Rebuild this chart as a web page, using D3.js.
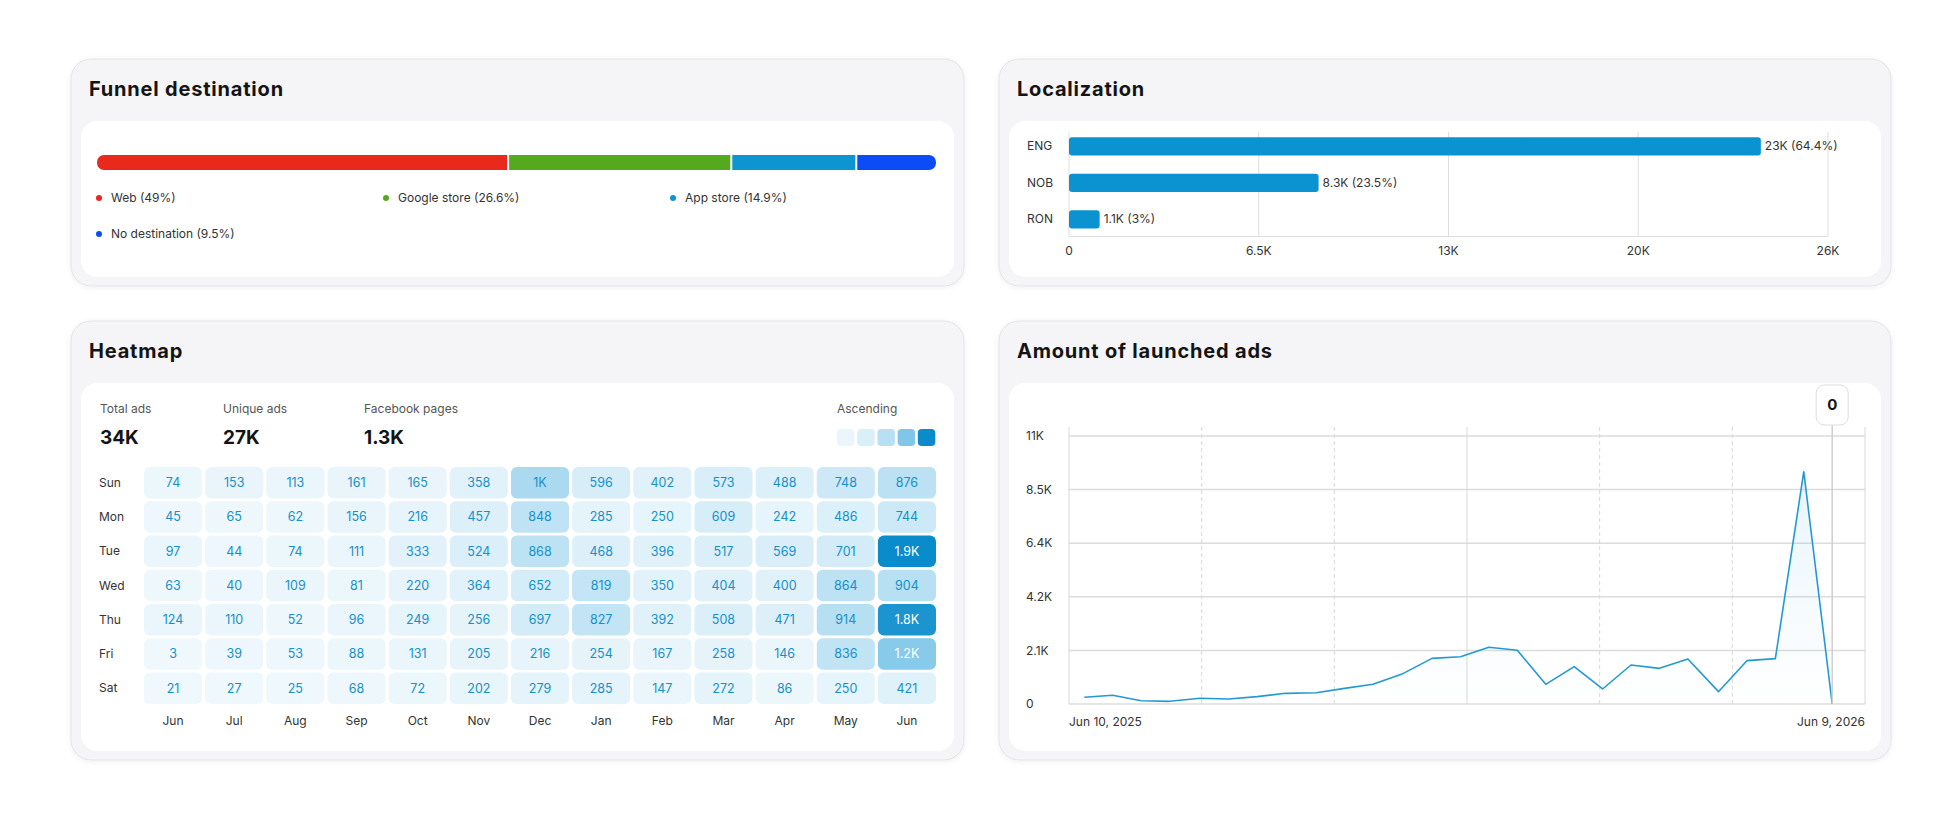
<!DOCTYPE html>
<html lang="en">
<head>
  <meta charset="utf-8">
  <style>
    html, body {
      margin: 0;
      padding: 0;
      background: #ffffff;
      width: 100%;
      height: 100%;
      overflow: hidden;
      font-family: Inter, "Noto Sans", sans-serif;
    }
    svg { display: block; }
    .title { font-size: 20px; font-weight: 700; fill: #141414; letter-spacing: 0.8px; }
    .lbl { font-size: 12px; fill: #333; }
  </style>
</head>
<body>
<svg width="1960" height="817"></svg>

<script src="https://d3js.org/d3.v7.min.js"></script>
<script>
// ---- data ----
const funnelNames = ["Web", "Google store", "App store", "No destination"];
const funnelShares = [49, 26.6, 14.9, 9.5];
const funnelColors = ["#e8291b", "#55a91f", "#0c95d1", "#0a4cf5"];

const langNames = ["ENG", "NOB", "RON"];
const langValues = [23700, 8550, 1050];
const langLabels = ["23K (64.4%)", "8.3K (23.5%)", "1.1K (3%)"];
const langTicks = [0, 6500, 13000, 19500, 26000];
const langTickLabels = ["0", "6.5K", "13K", "20K", "26K"];

const heatStats = [["Total ads", "34K"], ["Unique ads", "27K"], ["Facebook pages", "1.3K"]];
const heatDays = ["Sun", "Mon", "Tue", "Wed", "Thu", "Fri", "Sat"];
const heatMonths = ["Jun", "Jul", "Aug", "Sep", "Oct", "Nov", "Dec", "Jan", "Feb", "Mar", "Apr", "May", "Jun"];
const heatValues = [
  [74, 153, 113, 161, 165, 358, 1000, 596, 402, 573, 488, 748, 876],
  [45, 65, 62, 156, 216, 457, 848, 285, 250, 609, 242, 486, 744],
  [97, 44, 74, 111, 333, 524, 868, 468, 396, 517, 569, 701, 1900],
  [63, 40, 109, 81, 220, 364, 652, 819, 350, 404, 400, 864, 904],
  [124, 110, 52, 96, 249, 256, 697, 827, 392, 508, 471, 914, 1800],
  [3, 39, 53, 88, 131, 205, 216, 254, 167, 258, 146, 836, 1200],
  [21, 27, 25, 68, 72, 202, 279, 285, 147, 272, 86, 250, 421]
];
const heatLegendSteps = [150, 550, 900, 1250, 1900];

const adDates = [
  "2025-06-17", "2025-06-30", "2025-07-13", "2025-07-26", "2025-08-09", "2025-08-22",
  "2025-09-04", "2025-09-17", "2025-10-01", "2025-10-14", "2025-10-27", "2025-11-09",
  "2025-11-23", "2025-12-06", "2025-12-19", "2026-01-01", "2026-01-14", "2026-01-27",
  "2026-02-09", "2026-02-22", "2026-03-07", "2026-03-20", "2026-04-03", "2026-04-16",
  "2026-04-29", "2026-05-12", "2026-05-25"
];
const adCounts = [
  265, 345, 131, 106, 225, 198, 291, 423, 449, 621, 780, 1176, 1810, 1876,
  2247, 2128, 780, 1480, 595, 1546, 1414, 1784, 489, 1718, 1797, 9210, 0
];
const adTicks = [0, 2125, 4250, 6375, 8500, 10625];
const adTickLabels = ["0", "2.1K", "4.2K", "6.4K", "8.5K", "11K"];

// ---- setup ----
const svg = d3.select("svg");
const defs = svg.append("defs");

const shadow = defs.append("filter").attr("id", "shadow")
  .attr("x", "-5%").attr("y", "-5%").attr("width", "110%").attr("height", "115%");
shadow.append("feDropShadow")
  .attr("dx", 0).attr("dy", 1).attr("stdDeviation", 2.5)
  .attr("flood-color", "#000").attr("flood-opacity", 0.07);

function panel(x, y, w, h, title) {
  const g = svg.append("g");
  g.append("rect")
    .attr("x", x).attr("y", y).attr("width", w).attr("height", h)
    .attr("rx", 20)
    .attr("fill", "#f5f5f7")
    .attr("stroke", "#e4e4e8")
    .attr("filter", "url(#shadow)");
  g.append("text").attr("class", "title")
    .attr("x", x + 18).attr("y", y + 37)
    .text(title);
  g.append("rect")
    .attr("x", x + 10).attr("y", y + 62).attr("width", w - 20).attr("height", h - 71)
    .attr("rx", 16)
    .attr("fill", "#fff");
  return g;
}

// ---- Funnel destination ----
{
  const g = panel(71, 59, 893, 227, "Funnel destination");
  const x = d3.scaleLinear().domain([0, 100]).range([97, 936]);
  const starts = d3.cumsum([0, ...funnelShares]);
  const barY = 155, barH = 15;

  defs.append("clipPath").attr("id", "funnelClip")
    .append("rect")
    .attr("x", x(0)).attr("y", barY).attr("width", x(100) - x(0)).attr("height", barH)
    .attr("rx", 7);

  const bar = g.append("g").attr("clip-path", "url(#funnelClip)");
  bar.selectAll("rect")
    .data(funnelShares)
    .join("rect")
    .attr("x", (d, i) => x(starts[i]))
    .attr("y", barY)
    .attr("width", (d, i) => x(starts[i] + d) - x(starts[i]))
    .attr("height", barH)
    .attr("fill", (d, i) => funnelColors[i]);

  // white separators
  bar.selectAll("line")
    .data(starts.slice(1, funnelShares.length))
    .join("line")
    .attr("x1", d => x(d)).attr("x2", d => x(d))
    .attr("y1", barY).attr("y2", barY + barH)
    .attr("stroke", "#fff").attr("stroke-width", 2);

  // legend, 3 per row
  const leg = g.selectAll(".leg")
    .data(funnelNames)
    .join("g")
    .attr("transform", (d, i) => `translate(${99 + (i % 3) * 287},${198 + Math.floor(i / 3) * 36})`);
  leg.append("circle").attr("r", 3).attr("fill", (d, i) => funnelColors[i]);
  leg.append("text").attr("class", "lbl")
    .attr("x", 12).attr("dy", "0.35em")
    .text((d, i) => `${d} (${funnelShares[i]}%)`);
}

// ---- Localization ----
{
  const g = panel(999, 59, 892, 227, "Localization");
  const x = d3.scaleLinear().domain([0, 26000]).range([1069, 1828]);
  const y = d3.scaleBand().domain(langNames).range([128, 237.5])
    .paddingInner(0.5).paddingOuter(0.25);
  const axisY = 236.5;

  g.selectAll(".grid")
    .data(langTicks)
    .join("line")
    .attr("x1", d => x(d)).attr("x2", d => x(d))
    .attr("y1", 132).attr("y2", axisY)
    .attr("stroke", "#dedede").attr("stroke-width", 1);
  g.append("line")
    .attr("x1", x(0)).attr("x2", x(26000))
    .attr("y1", axisY).attr("y2", axisY)
    .attr("stroke", "#dedede");

  g.selectAll(".bar")
    .data(langValues)
    .join("rect")
    .attr("x", x(0))
    .attr("y", (d, i) => y(langNames[i]))
    .attr("width", d => x(d) - x(0))
    .attr("height", y.bandwidth())
    .attr("rx", 3)
    .attr("fill", "#0b93d1");

  g.selectAll(".val")
    .data(langValues)
    .join("text").attr("class", "lbl")
    .attr("x", d => x(d) + 4)
    .attr("y", (d, i) => y(langNames[i]) + y.bandwidth() / 2)
    .attr("dy", "0.35em")
    .text((d, i) => langLabels[i]);

  g.selectAll(".cat")
    .data(langNames)
    .join("text").attr("class", "lbl")
    .attr("x", 1027)
    .attr("y", d => y(d) + y.bandwidth() / 2)
    .attr("dy", "0.35em")
    .text(d => d);

  g.selectAll(".tick")
    .data(langTicks)
    .join("text").attr("class", "lbl")
    .attr("x", d => x(d))
    .attr("y", 251).attr("dy", "0.35em")
    .attr("text-anchor", "middle")
    .text((d, i) => langTickLabels[i]);
}

// ---- Heatmap ----
{
  const g = panel(71, 321, 893, 439, "Heatmap");

  const stat = g.selectAll(".stat")
    .data(heatStats)
    .join("g")
    .attr("transform", (d, i) => `translate(${[100, 223, 364][i]},0)`);
  stat.append("text")
    .attr("y", 409).attr("dy", "0.35em")
    .attr("font-size", 12).attr("fill", "#555")
    .text(d => d[0]);
  stat.append("text")
    .attr("y", 437).attr("dy", "0.35em")
    .attr("font-size", 19).attr("font-weight", 700).attr("fill", "#141414")
    .text(d => d[1]);

  const color = d3.scaleLinear()
    .domain([0, 300, 700, 1000, 1300, 1900])
    .range(["#eff8fd", "#e4f3fa", "#d3ecf8", "#abdaf0", "#76c2e6", "#0a8bcb"])
    .clamp(true);

  g.append("text")
    .attr("x", 837).attr("y", 409).attr("dy", "0.35em")
    .attr("font-size", 12).attr("fill", "#555")
    .text("Ascending");
  g.selectAll(".legsq")
    .data(heatLegendSteps)
    .join("rect")
    .attr("x", (d, i) => 837 + i * 20.2)
    .attr("y", 429)
    .attr("width", 17.5).attr("height", 17)
    .attr("rx", 4)
    .attr("fill", d => color(d));

  const x = d3.scaleBand().domain(d3.range(heatMonths.length)).range([144, 936]).paddingInner(0.05);
  const y = d3.scaleBand().domain(heatDays).range([467, 704]).paddingInner(0.08);
  const fmt = v => v >= 1000 ? d3.format(".2~s")(v).toUpperCase() : String(v);

  const cells = heatValues.flatMap((row, r) => row.map((v, c) => ({ day: heatDays[r], col: c, v })));

  g.selectAll(".cell")
    .data(cells)
    .join("rect")
    .attr("x", d => x(d.col))
    .attr("y", d => y(d.day))
    .attr("width", x.bandwidth())
    .attr("height", y.bandwidth())
    .attr("rx", 6)
    .attr("fill", d => color(d.v));

  g.selectAll(".cellText")
    .data(cells)
    .join("text")
    .attr("x", d => x(d.col) + x.bandwidth() / 2)
    .attr("y", d => y(d.day) + y.bandwidth() / 2)
    .attr("dy", "0.35em")
    .attr("text-anchor", "middle")
    .attr("font-size", 12.5)
    .attr("fill", d => d.v >= 1100 ? "#fff" : "#1690c9")
    .text(d => fmt(d.v));

  g.selectAll(".day")
    .data(heatDays)
    .join("text").attr("class", "lbl")
    .attr("x", 99)
    .attr("y", d => y(d) + y.bandwidth() / 2)
    .attr("dy", "0.35em")
    .attr("font-size", 13)
    .text(d => d);

  g.selectAll(".month")
    .data(heatMonths)
    .join("text").attr("class", "lbl")
    .attr("x", (d, i) => x(i) + x.bandwidth() / 2)
    .attr("y", 721).attr("dy", "0.35em")
    .attr("text-anchor", "middle")
    .attr("font-size", 13)
    .text(d => d);
}

// ---- Amount of launched ads ----
{
  const g = panel(999, 321, 892, 439, "Amount of launched ads");
  const parse = d3.timeParse("%Y-%m-%d");
  const pts = adDates.map((d, i) => ({ date: parse(d), v: adCounts[i] }));

  const x = d3.scaleTime()
    .domain([parse("2025-06-10"), parse("2026-06-09")])
    .range([1069, 1865]);
  const y = d3.scaleLinear().domain([0, 10625]).range([704, 436]);
  const top = 427;
  const [x0, x1] = x.range();

  // horizontal grid
  g.selectAll(".hgrid")
    .data(adTicks)
    .join("line")
    .attr("x1", x0).attr("x2", x1)
    .attr("y1", d => y(d)).attr("y2", d => y(d))
    .attr("stroke", "#dcdcdc").attr("stroke-width", 1.5);

  // vertical grid: sixths, middle one solid
  g.selectAll(".vgrid")
    .data(d3.range(7))
    .join("line")
    .attr("x1", i => x0 + i * (x1 - x0) / 6)
    .attr("x2", i => x0 + i * (x1 - x0) / 6)
    .attr("y1", top).attr("y2", y(0))
    .attr("stroke", "#d8d8d8")
    .attr("stroke-width", 1)
    .attr("stroke-dasharray", i => (i === 0 || i === 3 || i === 6) ? null : "4,3");

  g.selectAll(".ytick")
    .data(adTicks)
    .join("text").attr("class", "lbl")
    .attr("x", 1026)
    .attr("y", d => y(d)).attr("dy", "0.35em")
    .text((d, i) => adTickLabels[i]);

  g.append("text").attr("class", "lbl")
    .attr("x", x0).attr("y", 722).attr("dy", "0.35em")
    .text("Jun 10, 2025");
  g.append("text").attr("class", "lbl")
    .attr("x", x1).attr("y", 722).attr("dy", "0.35em")
    .attr("text-anchor", "end")
    .text("Jun 9, 2026");

  const grad = defs.append("linearGradient").attr("id", "adsFill")
    .attr("x1", 0).attr("y1", 0).attr("x2", 0).attr("y2", 1);
  grad.append("stop").attr("offset", "0%").attr("stop-color", "#1e9ad6").attr("stop-opacity", 0.1);
  grad.append("stop").attr("offset", "100%").attr("stop-color", "#1e9ad6").attr("stop-opacity", 0.0);

  g.append("path")
    .datum(pts)
    .attr("fill", "url(#adsFill)")
    .attr("d", d3.area().x(d => x(d.date)).y0(y(0)).y1(d => y(d.v)));

  g.append("path")
    .datum(pts)
    .attr("fill", "none")
    .attr("stroke", "#2399d3")
    .attr("stroke-width", 1.6)
    .attr("stroke-linejoin", "round")
    .attr("d", d3.line().x(d => x(d.date)).y(d => y(d.v)));

  // hover marker on the last point
  const last = pts[pts.length - 1];
  const hx = x(last.date);
  g.append("line")
    .attr("x1", hx).attr("x2", hx)
    .attr("y1", 425).attr("y2", y(0))
    .attr("stroke", "#cfcfcf").attr("stroke-width", 1.5);
  g.append("rect")
    .attr("x", hx - 16).attr("y", 385)
    .attr("width", 32).attr("height", 40)
    .attr("rx", 8)
    .attr("fill", "#fff")
    .attr("stroke", "#dedede");
  g.append("text")
    .attr("x", hx).attr("y", 405).attr("dy", "0.35em")
    .attr("text-anchor", "middle")
    .attr("font-size", 15).attr("font-weight", 700).attr("fill", "#141414")
    .text(d3.format(",")(last.v));
}
</script>
</body>
</html>
